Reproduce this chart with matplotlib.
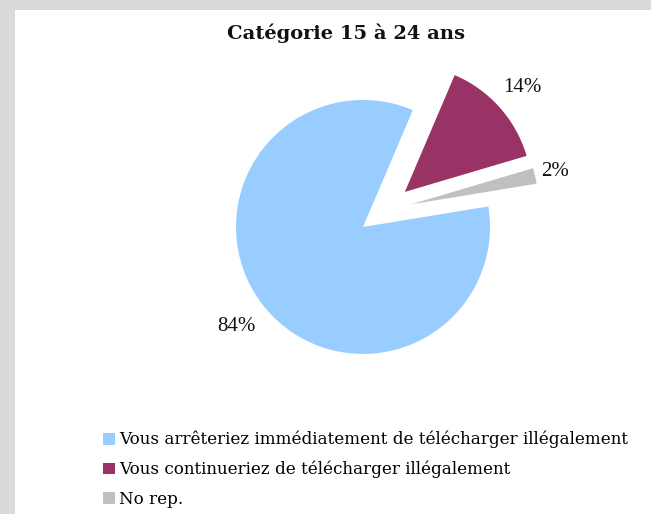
import numpy as np
import matplotlib
matplotlib.use("Agg")
import matplotlib.pyplot as plt
from matplotlib.patches import Rectangle

# ---- data ----
title = "Catégorie 15 à 24 ans"
categories = ["Vous arrêteriez immédiatement de télécharger illégalement",
              "Vous continueriez de télécharger illégalement",
              "No rep."]
values = [84, 14, 2]
colors = ["#99ccff", "#993366", "#c0c0c0"]
explode = [0.21, 0.22, 0.22]
label_dist = [1.27, 1.24, 1.16]

W, H = 651, 514
fig = plt.figure(figsize=(W / 100, H / 100), dpi=100, facecolor="white")
# grey frame at left and top
fig.patches.append(Rectangle((0, 0), 15 / W, 1, transform=fig.transFigure,
                             facecolor="#d9dbda", edgecolor="none", zorder=0))
fig.patches.append(Rectangle((0, 1 - 10 / H), 1, 10 / H, transform=fig.transFigure,
                             facecolor="#d9dbda", edgecolor="none", zorder=0))

serif = ["Liberation Serif", "DejaVu Serif"]
wide_serif = ["DejaVu Serif"]

# pie axes: centre at pixel (384, 210.5), 127 px per unit
cx, cy, scale = 384, 210.5, 127
half_w, half_h = 2.0, 1.5
ax = fig.add_axes([(cx - half_w * scale) / W, (H - cy - half_h * scale) / H,
                   2 * half_w * scale / W, 2 * half_h * scale / H])
wedges, texts, autotexts = ax.pie(values, colors=colors, explode=explode,
                                  startangle=9.3, counterclock=False,
                                  autopct="%.0f%%", pctdistance=1.2,
                                  wedgeprops=dict(linewidth=0),
                                  textprops=dict(family=serif, fontsize=15, color="#111111"))
for w, t, d in zip(wedges, autotexts, label_dist):
    th = np.deg2rad((w.theta1 + w.theta2) / 2)
    t.set_position((w.center[0] + d * w.r * np.cos(th), w.center[1] + d * w.r * np.sin(th)))
    t.set_ha("center")
    t.set_va("center")
ax.set_xlim(-half_w, half_w)
ax.set_ylim(-half_h, half_h)
ax.set_aspect("equal", adjustable="datalim")
ax.axis("off")

fig.text(346 / W, 1 - 33 / H, title, ha="center", va="center",
         family=wide_serif, fontsize=14, fontweight="bold", color="#111111")

fig.legend(wedges, categories, loc="upper left",
           bbox_to_anchor=(103 / W, 1 - 431 / H), frameon=False,
           prop=dict(family=wide_serif, size=12.1), handlelength=0.7, handleheight=0.7,
           handletextpad=0.25, labelspacing=0.73, borderpad=0, borderaxespad=0)

fig.savefig("out.png", dpi=100, facecolor="white")
